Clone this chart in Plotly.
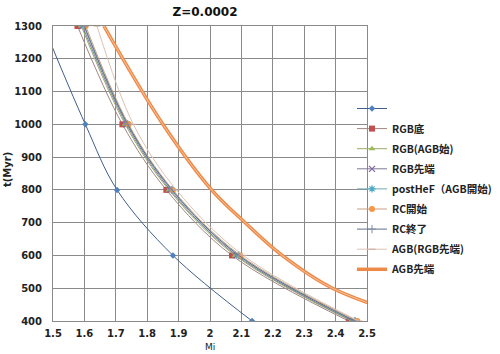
import plotly.graph_objects as go

# ---- data ----
t_marks = [1300, 1000, 800, 600, 400]

blue_t = [1300, 1000, 800, 600, 400]
blue_m = [1.470, 1.603, 1.704, 1.882, 2.134]

rgb_base_m = [1.578, 1.721, 1.861, 2.070, 2.442]      # RGB底
rgb_agb_m = [1.590, 1.730, 1.869, 2.080, 2.450]       # RGB(AGB始)
rgb_tip_m = [1.594, 1.734, 1.873, 2.085, 2.455]       # RGB先端
posthef_m = [1.598, 1.737, 1.877, 2.090, 2.460]       # postHeF（AGB開始)
rc_start_m = [1.604, 1.741, 1.882, 2.097, 2.469]      # RC開始
rc_end_m = [1.600, 1.738, 1.879, 2.092, 2.462]        # RC終了
agb_rgbtip_m = [1.640, 1.756, 1.893, 2.106, 2.474]    # AGB(RGB先端)

agb_tip_t = [1300, 1000, 800, 700, 600, 500, 400]
agb_tip_m = [1.662, 1.850, 2.005, 2.112, 2.230, 2.390, 2.680]  # AGB先端

x_ticks = [1.5, 1.6, 1.7, 1.8, 1.9, 2.0, 2.1, 2.2, 2.3, 2.4, 2.5]
x_ticklabels = ["1.5", "1.6", "1.7", "1.8", "1.9", "2", "2.1", "2.2", "2.3", "2.4", "2.5"]
y_ticks = [400, 500, 600, 700, 800, 900, 1000, 1100, 1200, 1300]

CJK = "Noto Sans CJK JP"

fig = go.Figure()

def add(name, m, t, color, symbol, size, lw, group, mcolor=None, mline=None, show=True, marker_on=True):
    fig.add_trace(go.Scatter(
        x=m, y=t, name=name,
        mode="lines+markers" if marker_on else "lines",
        line=dict(color=color, width=lw, shape="spline", smoothing=1.0),
        marker=dict(symbol=symbol, size=size, color=mcolor or color,
                    line=dict(width=mline if mline else 0, color=mcolor or color)),
        legendgroup=group, showlegend=show,
    ))

add("", blue_m, blue_t, "#3e5f8c", "diamond", 5, 1, "g1", mcolor="#4F81BD")
add("RGB底", rgb_base_m, t_marks, "#a08682", "square", 6, 1, "g2", mcolor="#C0504D")
add("RGB(AGB始)", rgb_agb_m, t_marks, "#9aab6a", "triangle-up", 6, 1, "g3", mcolor="#9BBB59")
add("RGB先端", rgb_tip_m, t_marks, "#7f7a96", "x-thin-open", 6, 1, "g4", mcolor="#8064A2", mline=1.2)
add("postHeF（AGB開始)", posthef_m, t_marks, "#6fa8b8", "asterisk-open", 6, 1, "g5", mcolor="#4BACC6", mline=1.2)
add("RC開始", rc_start_m, t_marks, "#c9a080", "circle", 6, 1, "g6", mcolor="#F79646")
add("RC終了", rc_end_m, t_marks, "#5f6f86", "cross-thin-open", 6, 1, "g7", mcolor="#7f8fa6", mline=1)
add("AGB(RGB先端)", agb_rgbtip_m, t_marks, "#dcc3b4", "line-ew-open", 5, 1, "g8", mcolor="#c9a89a", mline=1)
add("AGB先端", agb_tip_m, agb_tip_t, "#EE8A48", "line-ew-open", 5, 3.5, "g9", marker_on=False)
# lighter core of the thick orange line
fig.add_trace(go.Scatter(
    x=agb_tip_m, y=agb_tip_t, mode="lines", showlegend=False, hoverinfo="skip",
    line=dict(color="#F8C49C", width=1, shape="spline", smoothing=1.0), legendgroup="g9"))

axis_common = dict(
    showgrid=True, gridcolor="#8a8a8a", gridwidth=1,
    showline=True, linecolor="#8a8a8a", linewidth=1, mirror=True,
    zeroline=False, ticks="",
    tickfont=dict(family="DejaVu Sans", size=10, color="#222222", weight="bold"),
)

fig.update_xaxes(range=[1.5, 2.5], tickvals=x_ticks, ticktext=x_ticklabels,
                 ticklabelstandoff=3, **axis_common)
fig.update_yaxes(range=[400, 1300], tickvals=y_ticks,
                 ticklabelstandoff=8, **axis_common)

fig.update_layout(
    width=500, height=354,
    margin=dict(l=53, r=133, t=26, b=33, autoexpand=False),
    paper_bgcolor="white", plot_bgcolor="white",
    title=dict(text="Z=0.0002", x=0.41, xanchor="center", y=1 - 12 / 354, yanchor="middle",
               font=dict(family="DejaVu Sans", size=12, color="#111111", weight="bold")),
    legend=dict(x=(352 - 53) / 314, xanchor="left", y=(321 - 94) / 295, yanchor="top",
                bgcolor="rgba(0,0,0,0)", borderwidth=0,
                font=dict(family=CJK, size=10.5, color="#222222", weight="bold"),
                tracegroupgap=1.1, itemwidth=30),
    showlegend=True,
    annotations=[
        dict(text="Mi", xref="paper", yref="paper", x=0.5, y=(321 - 347) / 295,
             xanchor="center", yanchor="middle", showarrow=False,
             font=dict(family="DejaVu Sans", size=9, color="#222222")),
        dict(text="t(Myr)", xref="paper", yref="paper", x=-0.143, y=0.512,
             xanchor="center", yanchor="middle", showarrow=False, textangle=-90,
             font=dict(family="DejaVu Sans", size=10, color="#222222", weight="bold")),
    ],
)

fig.write_html("out.html")
